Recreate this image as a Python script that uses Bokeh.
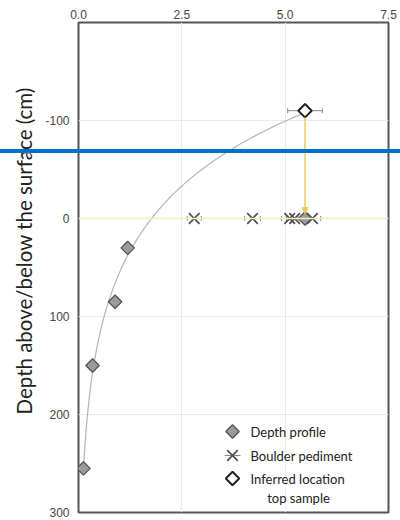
import numpy as np
from bokeh.plotting import figure
from bokeh.models import (Range1d, FixedTicker, ColumnDataSource, Whisker, TeeHead,
                          Arrow, NormalHead, Span, Label, Title, InlineStyleSheet)
from bokeh.embed import file_html
from bokeh.resources import INLINE

# Depth profile samples: concentration vs depth (cm, positive = below surface)
profile_conc = [1.19, 0.885, 0.34, 0.12]
profile_depth = [30, 85, 150, 255]

# Boulder pediment samples at the surface, with 1-sigma errors
boulder_conc = [2.80, 4.21, 5.11, 5.23, 5.66]
boulder_depth = [0, 0, 0, 0, 0]
boulder_err = [0.17, 0.19, 0.20, 0.20, 0.20]

# Inferred location of the top sample and its projection to the surface
top_conc = [5.48]
top_depth = [-110]
top_err = [0.42]
surface_depth = [0]

x_ticks = [0.0, 2.5, 5.0, 7.5]
y_ticks = [-100, 0, 100, 200, 300]
legend_labels = ["Depth profile", "Boulder pediment", "Inferred location", "top sample"]

X0, X1, Y0, Y1 = 0, 7.5, 300, -200
W, H = 400, 520
BL, BR, BT, BB = 78, 12, 22, 8

p = figure(width=W, height=H, x_range=Range1d(X0, X1), y_range=Range1d(Y0, Y1),
           x_axis_location="above", output_backend="svg", toolbar_location=None,
           min_border_left=BL, min_border_right=BR, min_border_top=BT, min_border_bottom=BB)
p.background_fill_color = "white"
p.border_fill_color = "white"
p.outline_line_color = "#555555"
p.outline_line_width = 2

for ax in (p.xaxis[0], p.yaxis[0]):
    ax.axis_line_color = None
    ax.major_tick_line_color = None
    ax.minor_tick_line_color = None
    ax.major_label_text_font = "Liberation Sans"
    ax.major_label_text_font_size = "12px"
    ax.major_label_text_color = "#444444"
p.xaxis[0].ticker = FixedTicker(ticks=x_ticks)
p.xaxis[0].major_label_standoff = -2
p.xaxis[0].major_label_overrides = {t: f"{t:.1f}" for t in x_ticks}
p.yaxis[0].ticker = FixedTicker(ticks=y_ticks)
p.yaxis[0].major_label_standoff = 3
p.yaxis[0].major_label_overrides = {t: str(t) for t in y_ticks}

p.xgrid.ticker = FixedTicker(ticks=[2.5, 5.0])
p.ygrid.ticker = FixedTicker(ticks=[-100, 100, 200])
p.xgrid.grid_line_color = "#ebebeb"
p.ygrid.grid_line_color = "#ebebeb"

# vertical axis title
p.add_layout(Title(text="Depth above/below the surface (cm)", align="left", offset=98,
                   standoff=13, text_font="Lato", text_font_size="20.5px",
                   text_font_style="normal", text_color="#222222"), "left")

# surface line
p.add_layout(Span(location=0, dimension="width", line_color="#f3eac0", line_width=1.5))

# exponential fit through the profile and the inferred top sample
fit_z = np.array(profile_depth + top_depth, dtype=float)
fit_c = np.array(profile_conc + top_conc, dtype=float)
slope, icpt = np.polyfit(fit_z, np.log(fit_c), 1)
curve_z = np.linspace(min(top_depth), max(profile_depth), 200)
curve_c = np.exp(icpt + slope * curve_z)
p.line(curve_c, curve_z, line_color="#b5b5b5", line_width=1.2)

# projection arrow from the inferred top sample down to the surface
p.add_layout(Arrow(end=NormalHead(size=6, fill_color="#f0c95a", line_color="#f0c95a"),
                   x_start=top_conc[0], y_start=top_depth[0] + 7,
                   x_end=top_conc[0], y_end=surface_depth[0] - 5,
                   line_color="#f0c95a", line_width=1.5))

cap = dict(size=5, line_color="#888888", line_width=1)

# boulder pediment error bars and markers
bsrc = ColumnDataSource(dict(x=boulder_conc, y=boulder_depth,
                             lo=[c - e for c, e in zip(boulder_conc, boulder_err)],
                             hi=[c + e for c, e in zip(boulder_conc, boulder_err)]))
p.add_layout(Whisker(source=bsrc, base="y", lower="lo", upper="hi", dimension="width",
                     line_color="#888888", line_width=1,
                     lower_head=TeeHead(**cap), upper_head=TeeHead(**cap)))
xmark = dict(marker="x", size=15, line_color="#505050", line_width=1.7)
p.scatter("x", "y", source=bsrc, **xmark)

# inferred top sample error bar
tsrc = ColumnDataSource(dict(x=top_conc, y=top_depth,
                             lo=[c - e for c, e in zip(top_conc, top_err)],
                             hi=[c + e for c, e in zip(top_conc, top_err)]))
p.add_layout(Whisker(source=tsrc, base="y", lower="lo", upper="hi", dimension="width",
                     line_color="#888888", line_width=1,
                     lower_head=TeeHead(**cap), upper_head=TeeHead(**cap)))

# depth profile and surface projection (squares turned 45 degrees)
dia = dict(marker="square", angle=np.pi / 4, size=9.5)
gray_dia = dict(fill_color="#9a9a9a", line_color="#555555", line_width=1.3, **dia)
white_dia = dict(fill_color="white", line_color="#222222", line_width=2, **dia)
p.scatter(profile_conc, profile_depth, **gray_dia)
p.scatter(top_conc, surface_depth, **gray_dia)
p.scatter("x", "y", source=tsrc, **white_dia)

# legend, laid out in canvas pixels
def to_data(px, py):
    fx = (px - BL) / (W - BL - BR)
    fy = (py - BT) / (H - BT - BB)
    return X0 + fx * (X1 - X0), Y1 + fy * (Y0 - Y1)

sw_x, text_x = 232, 250
row_y = [431, 455, 478, 497]
lx, ly0 = to_data(sw_x, row_y[0])
_, ly1 = to_data(sw_x, row_y[1])
_, ly2 = to_data(sw_x, row_y[2])
lxl, _ = to_data(sw_x - 8, 0)
lxr, _ = to_data(sw_x + 8, 0)
p.scatter([lx], [ly0], **gray_dia)
p.segment([lxl], [ly1], [lxr], [ly1], line_color="#888888", line_width=1)
p.scatter([lx], [ly1], **xmark)
p.scatter([lx], [ly2], **white_dia)
for lab, yy in zip(legend_labels[:3], row_y[:3]):
    p.add_layout(Label(x=text_x, y=yy, x_units="canvas", y_units="canvas", text=lab,
                       text_font="Lato", text_font_size="13px", text_color="#222222",
                       text_align="left", text_baseline="middle"))
p.add_layout(Label(x=298, y=row_y[3], x_units="canvas", y_units="canvas",
                   text=legend_labels[3], text_font="Lato", text_font_size="13px",
                   text_color="#222222", text_align="center", text_baseline="middle"))

# horizontal marker band across the whole canvas
p.stylesheets = [InlineStyleSheet(css=(
    ":host::after { content: ''; position: absolute; left: 0; top: 149px;"
    " width: 400px; height: 4px; background: #0070c8; pointer-events: none; z-index: 10; }"))]

open("out.html", "w").write(file_html(p, INLINE))
